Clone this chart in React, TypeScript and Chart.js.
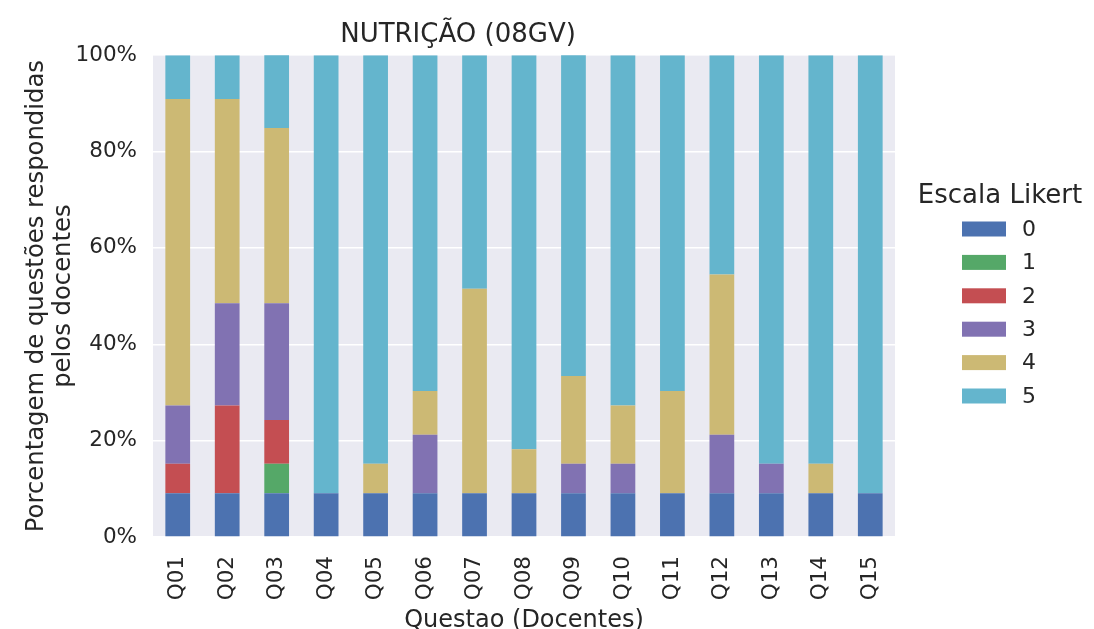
import React, { useEffect, useRef } from "react";
import { Chart, registerables } from "chart.js";

Chart.register(...registerables);

const categories = ["Q01","Q02","Q03","Q04","Q05","Q06","Q07","Q08","Q09","Q10","Q11","Q12","Q13","Q14","Q15"];
const likertLabels = ["0", "1", "2", "3", "4", "5"];
const likertColors = ["#4C72B0", "#55A868", "#C44E52", "#8172B2", "#CCB974", "#64B5CD"];

const s0 = [9.1, 9.1, 9.1, 9.1, 9.1, 9.1, 9.1, 9.1, 9.1, 9.1, 9.1, 9.1, 9.1, 9.1, 9.1];
const s1 = [0, 0, 6.1, 0, 0, 0, 0, 0, 0, 0, 0, 0, 0, 0, 0];
const s2 = [6.1, 18.2, 9.1, 0, 0, 0, 0, 0, 0, 0, 0, 0, 0, 0, 0];
const s3 = [12.1, 21.2, 24.2, 0, 0, 12.1, 0, 0, 6.1, 6.1, 0, 12.1, 6.1, 0, 0];
const s4 = [63.6, 42.4, 36.4, 0, 6.1, 9.1, 42.4, 9.1, 18.2, 12.1, 21.2, 33.3, 0, 6.1, 0];
const s5 = [9.1, 9.1, 15.2, 90.9, 84.8, 69.7, 48.5, 81.8, 66.7, 72.7, 69.7, 45.5, 84.8, 84.8, 90.9];
const seriesValues = [s0, s1, s2, s3, s4, s5];

const yTicks = [0, 20, 40, 60, 80, 100];

const TEXT = "#262626";
const FONT = "'DejaVu Sans', sans-serif";

const bgPlugin = {
  id: "plotBg",
  beforeDraw(chart: any) {
    const { ctx, chartArea } = chart;
    ctx.save();
    ctx.fillStyle = "#EAEAF2";
    ctx.fillRect(chartArea.left, chartArea.top, chartArea.right - chartArea.left, chartArea.bottom - chartArea.top);
    ctx.restore();
  },
};

const legendPlugin = {
  id: "likertLegend",
  afterDraw(chart: any) {
    const { ctx, chartArea } = chart;
    const cx = chartArea.right + 105;
    ctx.save();
    ctx.fillStyle = TEXT;
    ctx.font = `26px ${FONT}`;
    ctx.textAlign = "center";
    ctx.textBaseline = "middle";
    ctx.fillText("Escala Likert", cx, 196);
    const boxX = chartArea.right + 67;
    ctx.font = `22px ${FONT}`;
    chart.data.datasets.forEach((ds: any, i: number) => {
      const y = 229 + i * 33.4;
      ctx.fillStyle = ds.backgroundColor;
      ctx.fillRect(boxX, y - 7.5, 44, 15);
      ctx.fillStyle = TEXT;
      ctx.textAlign = "left";
      ctx.fillText(ds.label, boxX + 60, y + 1);
    });
    ctx.restore();
  },
};

export default function App() {
  const ref = useRef<HTMLCanvasElement>(null);
  useEffect(() => {
    if (!ref.current) return;
    const chart = new Chart(ref.current, {
      type: "bar",
      data: {
        labels: categories,
        datasets: seriesValues.map((vals, i) => ({
          label: likertLabels[i],
          data: vals,
          backgroundColor: likertColors[i],
          borderWidth: 0,
          categoryPercentage: 1,
          barPercentage: 0.5,
        })),
      },
      options: {
        animation: false,
        responsive: false,
        layout: { padding: { left: 21, right: 199, top: 0, bottom: 0 } },
        plugins: {
          legend: { display: false },
          tooltip: { enabled: false },
          title: {
            display: true,
            text: "NUTRIÇÃO (08GV)",
            color: TEXT,
            font: { family: FONT, size: 26, weight: "normal", lineHeight: 1.2 },
            padding: { top: 20, bottom: 4 },
          },
        },
        scales: {
          x: {
            stacked: true,
            grid: { display: false },
            border: { display: false },
            afterFit(scale: any) {
              scale.height = 92;
            },
            ticks: {
              color: TEXT,
              font: { family: FONT, size: 21.5 },
              maxRotation: 90,
              minRotation: 90,
              padding: 11,
            },
            title: {
              display: true,
              text: "Questao (Docentes)",
              color: TEXT,
              font: { family: FONT, size: 24, lineHeight: 1.0 },
              padding: { top: 8, bottom: -4 },
            },
          },
          y: {
            stacked: true,
            min: 0,
            max: 100,
            afterBuildTicks(scale: any) {
              scale.ticks = yTicks.map((v) => ({ value: v }));
            },
            afterFit(scale: any) {
              scale.width = 132;
            },
            grid: { color: "#FFFFFF", lineWidth: 1.5, drawTicks: false },
            border: { display: false },
            ticks: {
              color: TEXT,
              font: { family: FONT, size: 21.5 },
              padding: 16,
              callback: (v: any) => `${v}%`,
            },
            title: {
              display: true,
              text: ["Porcentagem de questões respondidas", "pelos docentes"],
              color: TEXT,
              font: { family: FONT, size: 24.3, lineHeight: 1.12 },
              padding: { top: 2, bottom: 1 },
            },
          },
        },
      },
      plugins: [bgPlugin, legendPlugin],
    });
    return () => chart.destroy();
  }, []);
  return (
    <div style={{ position: "absolute", left: 0, top: 0, width: 1094, height: 629, background: "#fff" }}>
      <canvas ref={ref} width={1094} height={629} />
    </div>
  );
}
